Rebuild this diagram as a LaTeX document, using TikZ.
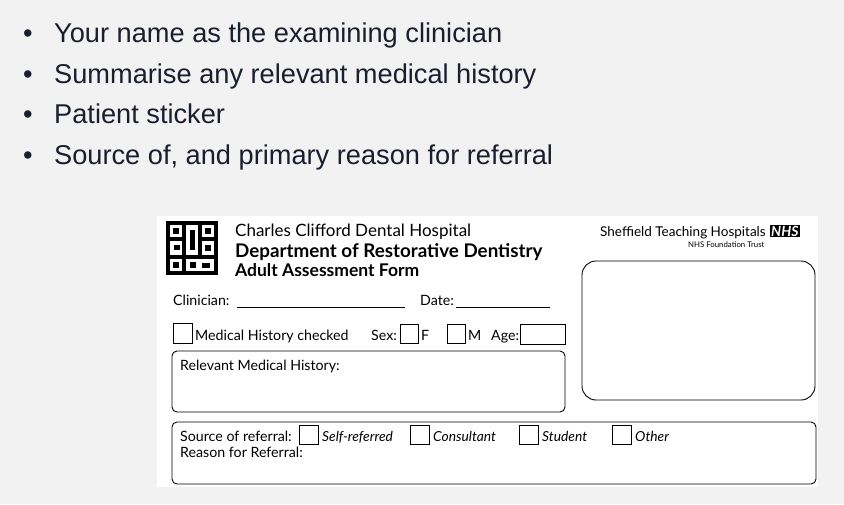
\documentclass[tikz,border=0pt]{standalone}
\usepackage{fontspec}
\setmainfont{Liberation Sans}
\newfontfamily\formfont{Lato}
\definecolor{slidebg}{HTML}{F2F2F2}
\definecolor{navy}{HTML}{1A1F2E}
\tikzset{
  bullet/.style={anchor=base west, inner sep=0pt, text=navy, font=\fontsize{27.2}{30}\selectfont},
  formtext/.style={anchor=base west, inner sep=0pt, font=\formfont\fontsize{14.2}{16}\selectfont},
  opttext/.style={formtext, font=\formfont\itshape\fontsize{13.8}{16}\selectfont},
  tick/.style={draw, line width=0.9pt},
  panel/.style={draw, line width=0.9pt, rounded corners=5pt}
}
\begin{document}
\begin{tikzpicture}[x=1pt,y=-1pt]
	\fill [slidebg] (0,0) rectangle (844,504);
	\useasboundingbox (0,0) rectangle (844,504);
	% bullet list
	\foreach \y/\t [count=\i] in {42/Your name as the examining clinician, 83/Summarise any relevant medical history, 123/Patient sticker, 164/{Source of, and primary reason for referral}} {
		\node [bullet] (dot\i) at (23,\y) {•};
		\node [bullet] (item\i) at (54,\y) {\t};
	}
	% scanned form
	\fill [white] (157,216) rectangle (818,487);
	\fill [black] (166,221) rectangle (218,275);
	\fill [white] (170,225) rectangle (182,237);
	\fill [white] (202,225) rectangle (214,237);
	\fill [white] (170,259) rectangle (182,271);
	\fill [white] (186,225) rectangle (198,255);
	\fill [white] (186,259) rectangle (214,271);
	\fill [white] (170,241) rectangle (182,255);
	\fill [white] (202,241) rectangle (214,255);
	\fill [black] (173,228) rectangle (179,234);
	\fill [black] (205,228) rectangle (211,234);
	\fill [black] (173,262) rectangle (179,268);
	\fill [black] (190,230) rectangle (195,250);
	\fill [black] (174,245) rectangle (180,250);
	\fill [black] (205,245) rectangle (211,251);
	\fill [black] (190,262) rectangle (196,268);
	\fill [black] (202,263) rectangle (210,268);
	\node [formtext, font=\formfont\fontsize{17}{19}\selectfont] (hosp) at (235,236) {Charles Clifford Dental Hospital};
	\node [formtext, font=\formfont\bfseries\fontsize{18.8}{20}\selectfont] (dept) at (235,257) {Department of Restorative Dentistry};
	\node [formtext, font=\formfont\bfseries\fontsize{17.5}{20}\selectfont] (title) at (235,276) {Adult Assessment Form};
	\node [formtext, font=\formfont\fontsize{13.5}{15}\selectfont] (trust) at (600,236) {Sheffield Teaching Hospitals};
	\node [fill=black, text=white, inner sep=1pt, font=\formfont\bfseries\itshape\fontsize{14}{15}\selectfont, anchor=west] (nhs) at (770,231) {NHS};
	\node [formtext, font=\formfont\fontsize{7.8}{9}\selectfont] (found) at (688,247) {NHS Foundation Trust};
	\draw [panel, rounded corners=14pt] (582,261) rectangle (815,400);
	% clinician row
	\node [formtext] (clin) at (173,305) {Clinician:};
	\draw [line width=0.8pt] (237,307) -- (405,307);
	\node [formtext] (date) at (420,305) {Date:};
	\draw [line width=0.8pt] (456,307) -- (550,307);
	% history row
	\draw [tick] (173,323) rectangle (192,343);
	\node [formtext] (mhc) at (195,340) {Medical History checked};
	\node [formtext] (sex) at (371,340) {Sex:};
	\draw [tick] (400,324) rectangle (418,343);
	\node [formtext] (fem) at (421,340) {F};
	\draw [tick] (447,324) rectangle (465,343);
	\node [formtext] (male) at (468,340) {M};
	\node [formtext] (age) at (491,340) {Age:};
	\draw [tick] (520,324) rectangle (565,344);
	\draw [panel] (172,351) rectangle (565,412);
	\node [formtext] (rmh) at (180,370) {Relevant Medical History:};
	% referral
	\draw [panel] (172,422) rectangle (816,484);
	\node [formtext] (src) at (180,441) {Source of referral:};
	\foreach \x/\t [count=\i] in {299/Self-referred, 410/Consultant, 519/Student, 612/Other} {
		\draw [tick] (\x,425) rectangle (\x+19,444);
		\node [opttext] (opt\i) at (\x+23,441) {\t};
	}
	\node [formtext] (reason) at (180,457) {Reason for Referral:};
\end{tikzpicture}
\end{document}
